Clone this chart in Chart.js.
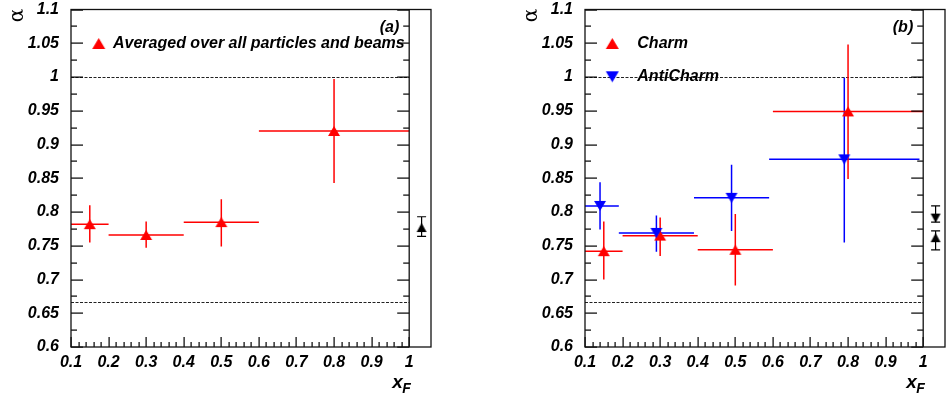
<!DOCTYPE html>
<html><head><meta charset="utf-8">
<script src="https://cdn.jsdelivr.net/npm/chart.js@4.4.0/dist/chart.umd.min.js"></script>
<style>
html,body{margin:0;padding:0;background:#fff;}
#wrap{position:relative;width:952px;height:404px;overflow:hidden;}
.panel{position:absolute;top:0;width:476px;height:404px;}
</style></head>
<body>
<div id="wrap">
  <div class="panel" style="left:0"><canvas id="ca" width="476" height="404"></canvas></div>
  <div class="panel" style="left:476px"><canvas id="cb" width="476" height="404"></canvas></div>
</div>
<script>
// ---------------- axes ----------------
const X_MIN = 0.1, X_SPLIT = 1.0, X_MAX = 1.058;
const Y_MIN = 0.6, Y_MAX = 1.1;
const X_TICKS = [0.1, 0.2, 0.3, 0.4, 0.5, 0.6, 0.7, 0.8, 0.9, 1.0];
const X_TICK_LABELS = ['0.1', '0.2', '0.3', '0.4', '0.5', '0.6', '0.7', '0.8', '0.9', '1'];
const Y_TICKS = [0.6, 0.65, 0.7, 0.75, 0.8, 0.85, 0.9, 0.95, 1.0, 1.05, 1.1];
const Y_TICK_LABELS = ['0.6', '0.65', '0.7', '0.75', '0.8', '0.85', '0.9', '0.95', '1', '1.05', '1.1'];
const X_MINOR_STEP = 0.02, Y_MINOR_STEP = 0.025;
const REF_LINES = [1.0, 0.6667];
const SUMMARY_X = 1.033;

// ---------------- panel (a): averaged ----------------
const avgX      = [0.15, 0.30, 0.50, 0.80];
const avgXLow   = [0.10, 0.20, 0.40, 0.60];
const avgXHigh  = [0.20, 0.40, 0.60, 1.00];
const avgAlpha  = [0.782, 0.766, 0.785, 0.920];
const avgLow    = [0.755, 0.747, 0.749, 0.843];
const avgHigh   = [0.810, 0.786, 0.819, 0.997];
const avgTotal = 0.777, avgTotalLow = 0.764, avgTotalHigh = 0.793;

// ---------------- panel (b): charm / anticharm ----------------
const charmX     = [0.15, 0.30, 0.50, 0.80];
const charmXLow  = [0.10, 0.20, 0.40, 0.60];
const charmXHigh = [0.20, 0.40, 0.60, 1.00];
const charmAlpha = [0.742, 0.765, 0.744, 0.949];
const charmLow   = [0.700, 0.735, 0.691, 0.849];
const charmHigh  = [0.786, 0.792, 0.797, 1.048];
const charmTotal = 0.762, charmTotalLow = 0.744, charmTotalHigh = 0.772;

const antiX      = [0.14, 0.29, 0.49, 0.79];
const antiXLow   = [0.10, 0.19, 0.39, 0.59];
const antiXHigh  = [0.19, 0.39, 0.59, 0.99];
const antiAlpha  = [0.809, 0.769, 0.821, 0.878];
const antiLow    = [0.774, 0.741, 0.772, 0.755];
const antiHigh   = [0.844, 0.795, 0.870, 0.999];
const antiTotal = 0.791, antiTotalLow = 0.785, antiTotalHigh = 0.809;

// ---------------- helpers ----------------
const RED = '#ff0000', BLUE = '#0000ff', BLACK = '#000000';
const FONT_FAMILY = '"Liberation Sans", Arial, Helvetica, sans-serif';
const TICK_FONT = { family: FONT_FAMILY, size: 16, style: 'italic', weight: 'bold' };

function tri(color, down, w, h) {
  const c = document.createElement('canvas');
  c.width = w + 2; c.height = h + 2;
  const g = c.getContext('2d');
  g.fillStyle = color;
  g.beginPath();
  if (!down) { g.moveTo(1 + w / 2, 1); g.lineTo(1 + w, 1 + h); g.lineTo(1, 1 + h); }
  else { g.moveTo(1, 1); g.lineTo(1 + w, 1); g.lineTo(1 + w / 2, 1 + h); }
  g.closePath(); g.fill();
  return c;
}
const pts = (xs, ys) => xs.map((v, i) => ({ x: v, y: ys[i] }));

function scalesFor(yWidth) {
  return {
    x: {
      type: 'linear', min: X_MIN, max: X_MAX,
      afterBuildTicks: s => { s.ticks = X_TICKS.map(v => ({ value: v })); },
      ticks: { callback: (v, i) => X_TICK_LABELS[i], font: TICK_FONT, color: '#000', padding: 6, maxRotation: 0, autoSkip: false },
      grid: { display: false, drawTicks: false }, border: { display: false },
      afterFit: s => { s.height = 57; s.paddingLeft = 0; s.paddingRight = 0; }
    },
    y: {
      type: 'linear', min: Y_MIN, max: Y_MAX,
      afterBuildTicks: s => { s.ticks = Y_TICKS.map(v => ({ value: v })); },
      ticks: { callback: (v, i) => Y_TICK_LABELS[i], font: TICK_FONT, color: '#000', padding: 12, autoSkip: false },
      grid: { display: false, drawTicks: false }, border: { display: false },
      afterFit: s => { s.width = yWidth; s.paddingTop = 0; s.paddingBottom = 0; }
    }
  };
}

function rootPanel(cfg) {
  return {
    id: 'rootPanel',
    beforeDatasetsDraw(chart) {
      const { ctx, chartArea: ca, scales: { x, y } } = chart;
      ctx.save();
      ctx.beginPath(); ctx.rect(ca.left, ca.top, ca.right - ca.left, ca.bottom - ca.top); ctx.clip();
      // dotted reference lines
      ctx.strokeStyle = '#222'; ctx.lineWidth = 1; ctx.setLineDash([3, 1.5]);
      const xa = x.getPixelForValue(X_MIN), xb = x.getPixelForValue(X_SPLIT);
      REF_LINES.forEach(v => {
        const py = Math.round(y.getPixelForValue(v)) + 0.5;
        ctx.beginPath(); ctx.moveTo(xa, py); ctx.lineTo(xb, py); ctx.stroke();
      });
      ctx.setLineDash([]);
      // error bars
      cfg.series.forEach(s => {
        ctx.strokeStyle = s.color; ctx.lineWidth = 1.5;
        s.x.forEach((xv, i) => {
          const px = x.getPixelForValue(xv), py = y.getPixelForValue(s.y[i]);
          ctx.beginPath();
          ctx.moveTo(x.getPixelForValue(s.xl[i]), py); ctx.lineTo(x.getPixelForValue(s.xh[i]), py);
          ctx.moveTo(px, y.getPixelForValue(s.yl[i])); ctx.lineTo(px, y.getPixelForValue(s.yh[i]));
          ctx.stroke();
        });
      });
      // summary error bars with caps
      ctx.strokeStyle = BLACK; ctx.lineWidth = 1.2;
      cfg.summary.forEach(s => {
        const px = x.getPixelForValue(SUMMARY_X);
        const y1 = y.getPixelForValue(s.yl), y2 = y.getPixelForValue(s.yh);
        ctx.beginPath();
        ctx.moveTo(px, y1); ctx.lineTo(px, y2);
        ctx.moveTo(px - 4.5, y1); ctx.lineTo(px + 4.5, y1);
        ctx.moveTo(px - 4.5, y2); ctx.lineTo(px + 4.5, y2);
        ctx.stroke();
      });
      ctx.restore();
    },
    afterDraw(chart) {
      const { ctx, chartArea: ca, scales: { x, y } } = chart;
      const S = x.getPixelForValue(X_SPLIT);
      ctx.save();
      ctx.setLineDash([]);
      ctx.globalAlpha = 1;
      // ticks (filled rectangles)
      ctx.fillStyle = '#000';
      const nY = Math.round((Y_MAX - Y_MIN) / Y_MINOR_STEP);
      for (let k = 0; k <= nY; k++) {
        const py = Math.round(y.getPixelForValue(Y_MIN + k * Y_MINOR_STEP));
        const len = k % 2 === 0 ? 12 : 6;
        ctx.fillRect(ca.left, py - 0.5, len, 1.2);
        ctx.fillRect(S - len, py - 0.5, len, 1.2);
      }
      const nX = Math.round((X_SPLIT - X_MIN) / X_MINOR_STEP);
      for (let k = 0; k <= nX; k++) {
        const px = Math.round(x.getPixelForValue(X_MIN + k * X_MINOR_STEP));
        const len = k % 5 === 0 ? 10 : 5;
        ctx.fillRect(px - 0.5, ca.bottom - len, 1.2, len);
      }
      // frame
      ctx.strokeStyle = '#111'; ctx.lineWidth = 1.3;
      ctx.strokeRect(ca.left, ca.top, ca.right - ca.left, ca.bottom - ca.top);
      ctx.beginPath(); ctx.moveTo(S, ca.top); ctx.lineTo(S, ca.bottom); ctx.stroke();
      // alpha axis title
      ctx.fillStyle = '#000';
      ctx.save();
      ctx.translate(ca.left - 53, ca.top + 6);
      ctx.rotate(-Math.PI / 2);
      ctx.font = '20px "DejaVu Serif", "Liberation Serif", serif';
      ctx.textAlign = 'center'; ctx.textBaseline = 'middle';
      ctx.fillText('α', 0, 0);
      ctx.restore();
      // x_F title
      ctx.textAlign = 'left'; ctx.textBaseline = 'alphabetic';
      ctx.font = 'italic bold 19px ' + FONT_FAMILY;
      ctx.fillText('x', S - 17, ca.bottom + 41);
      ctx.font = 'italic bold 14px ' + FONT_FAMILY;
      ctx.fillText('F', S - 7, ca.bottom + 46);
      // panel label
      ctx.font = 'italic bold 16px ' + FONT_FAMILY;
      ctx.textAlign = 'right'; ctx.textBaseline = 'middle';
      ctx.fillText(cfg.panelLabel, S - 10, ca.top + 18);
      // legend
      ctx.textAlign = 'left';
      cfg.legend.forEach(l => {
        ctx.drawImage(l.img, ca.left + l.mx - l.img.width / 2, ca.top + l.my - l.img.height / 2);
        ctx.fillText(l.text, ca.left + l.tx, ca.top + l.my);
      });
      ctx.restore();
    }
  };
}

function baseOptions(yWidth, rightPad) {
  return {
    responsive: false, animation: false, events: [],
    layout: { padding: { top: 9.5, right: rightPad, bottom: 0, left: 0 } },
    plugins: { legend: { display: false }, tooltip: { enabled: false } },
    scales: scalesFor(yWidth)
  };
}

const mkRed = tri(RED, false, 12, 10);
const mkBlue = tri(BLUE, true, 12, 10);
const mkBlkUp = tri(BLACK, false, 10, 9);
const mkBlkDown = tri(BLACK, true, 10, 9);
const lgRed = tri(RED, false, 13, 11);
const lgBlue = tri(BLUE, true, 13, 11);

// ---------------- chart (a) ----------------
new Chart(document.getElementById('ca'), {
  type: 'scatter',
  data: {
    datasets: [
      { label: 'Averaged over all particles and beams', data: pts(avgX, avgAlpha), pointStyle: mkRed, showLine: false },
      { label: 'total', data: [{ x: SUMMARY_X, y: avgTotal }], pointStyle: mkBlkUp, showLine: false }
    ]
  },
  options: baseOptions(71, 45),
  plugins: [rootPanel({
    panelLabel: '(a)',
    series: [{ color: RED, x: avgX, xl: avgXLow, xh: avgXHigh, y: avgAlpha, yl: avgLow, yh: avgHigh }],
    summary: [{ yl: avgTotalLow, yh: avgTotalHigh }],
    legend: [{ img: lgRed, text: 'Averaged over all particles and beams', mx: 27.7, tx: 42, my: 34 }]
  })]
});

// ---------------- chart (b) ----------------
new Chart(document.getElementById('cb'), {
  type: 'scatter',
  data: {
    datasets: [
      { label: 'AntiCharm', data: pts(antiX, antiAlpha), pointStyle: mkBlue, showLine: false },
      { label: 'Charm', data: pts(charmX, charmAlpha), pointStyle: mkRed, showLine: false },
      { label: 'AntiCharm total', data: [{ x: SUMMARY_X, y: antiTotal }], pointStyle: mkBlkDown, showLine: false },
      { label: 'Charm total', data: [{ x: SUMMARY_X, y: charmTotal }], pointStyle: mkBlkUp, showLine: false }
    ]
  },
  options: baseOptions(109, 7),
  plugins: [rootPanel({
    panelLabel: '(b)',
    series: [
      { color: BLUE, x: antiX, xl: antiXLow, xh: antiXHigh, y: antiAlpha, yl: antiLow, yh: antiHigh },
      { color: RED, x: charmX, xl: charmXLow, xh: charmXHigh, y: charmAlpha, yl: charmLow, yh: charmHigh }
    ],
    summary: [{ yl: antiTotalLow, yh: antiTotalHigh }, { yl: charmTotalLow, yh: charmTotalHigh }],
    legend: [
      { img: lgRed, text: 'Charm', mx: 27.3, tx: 52.3, my: 34 },
      { img: lgBlue, text: 'AntiCharm', mx: 27.3, tx: 52.3, my: 67.3 }
    ]
  })]
});
</script>
</body></html>
